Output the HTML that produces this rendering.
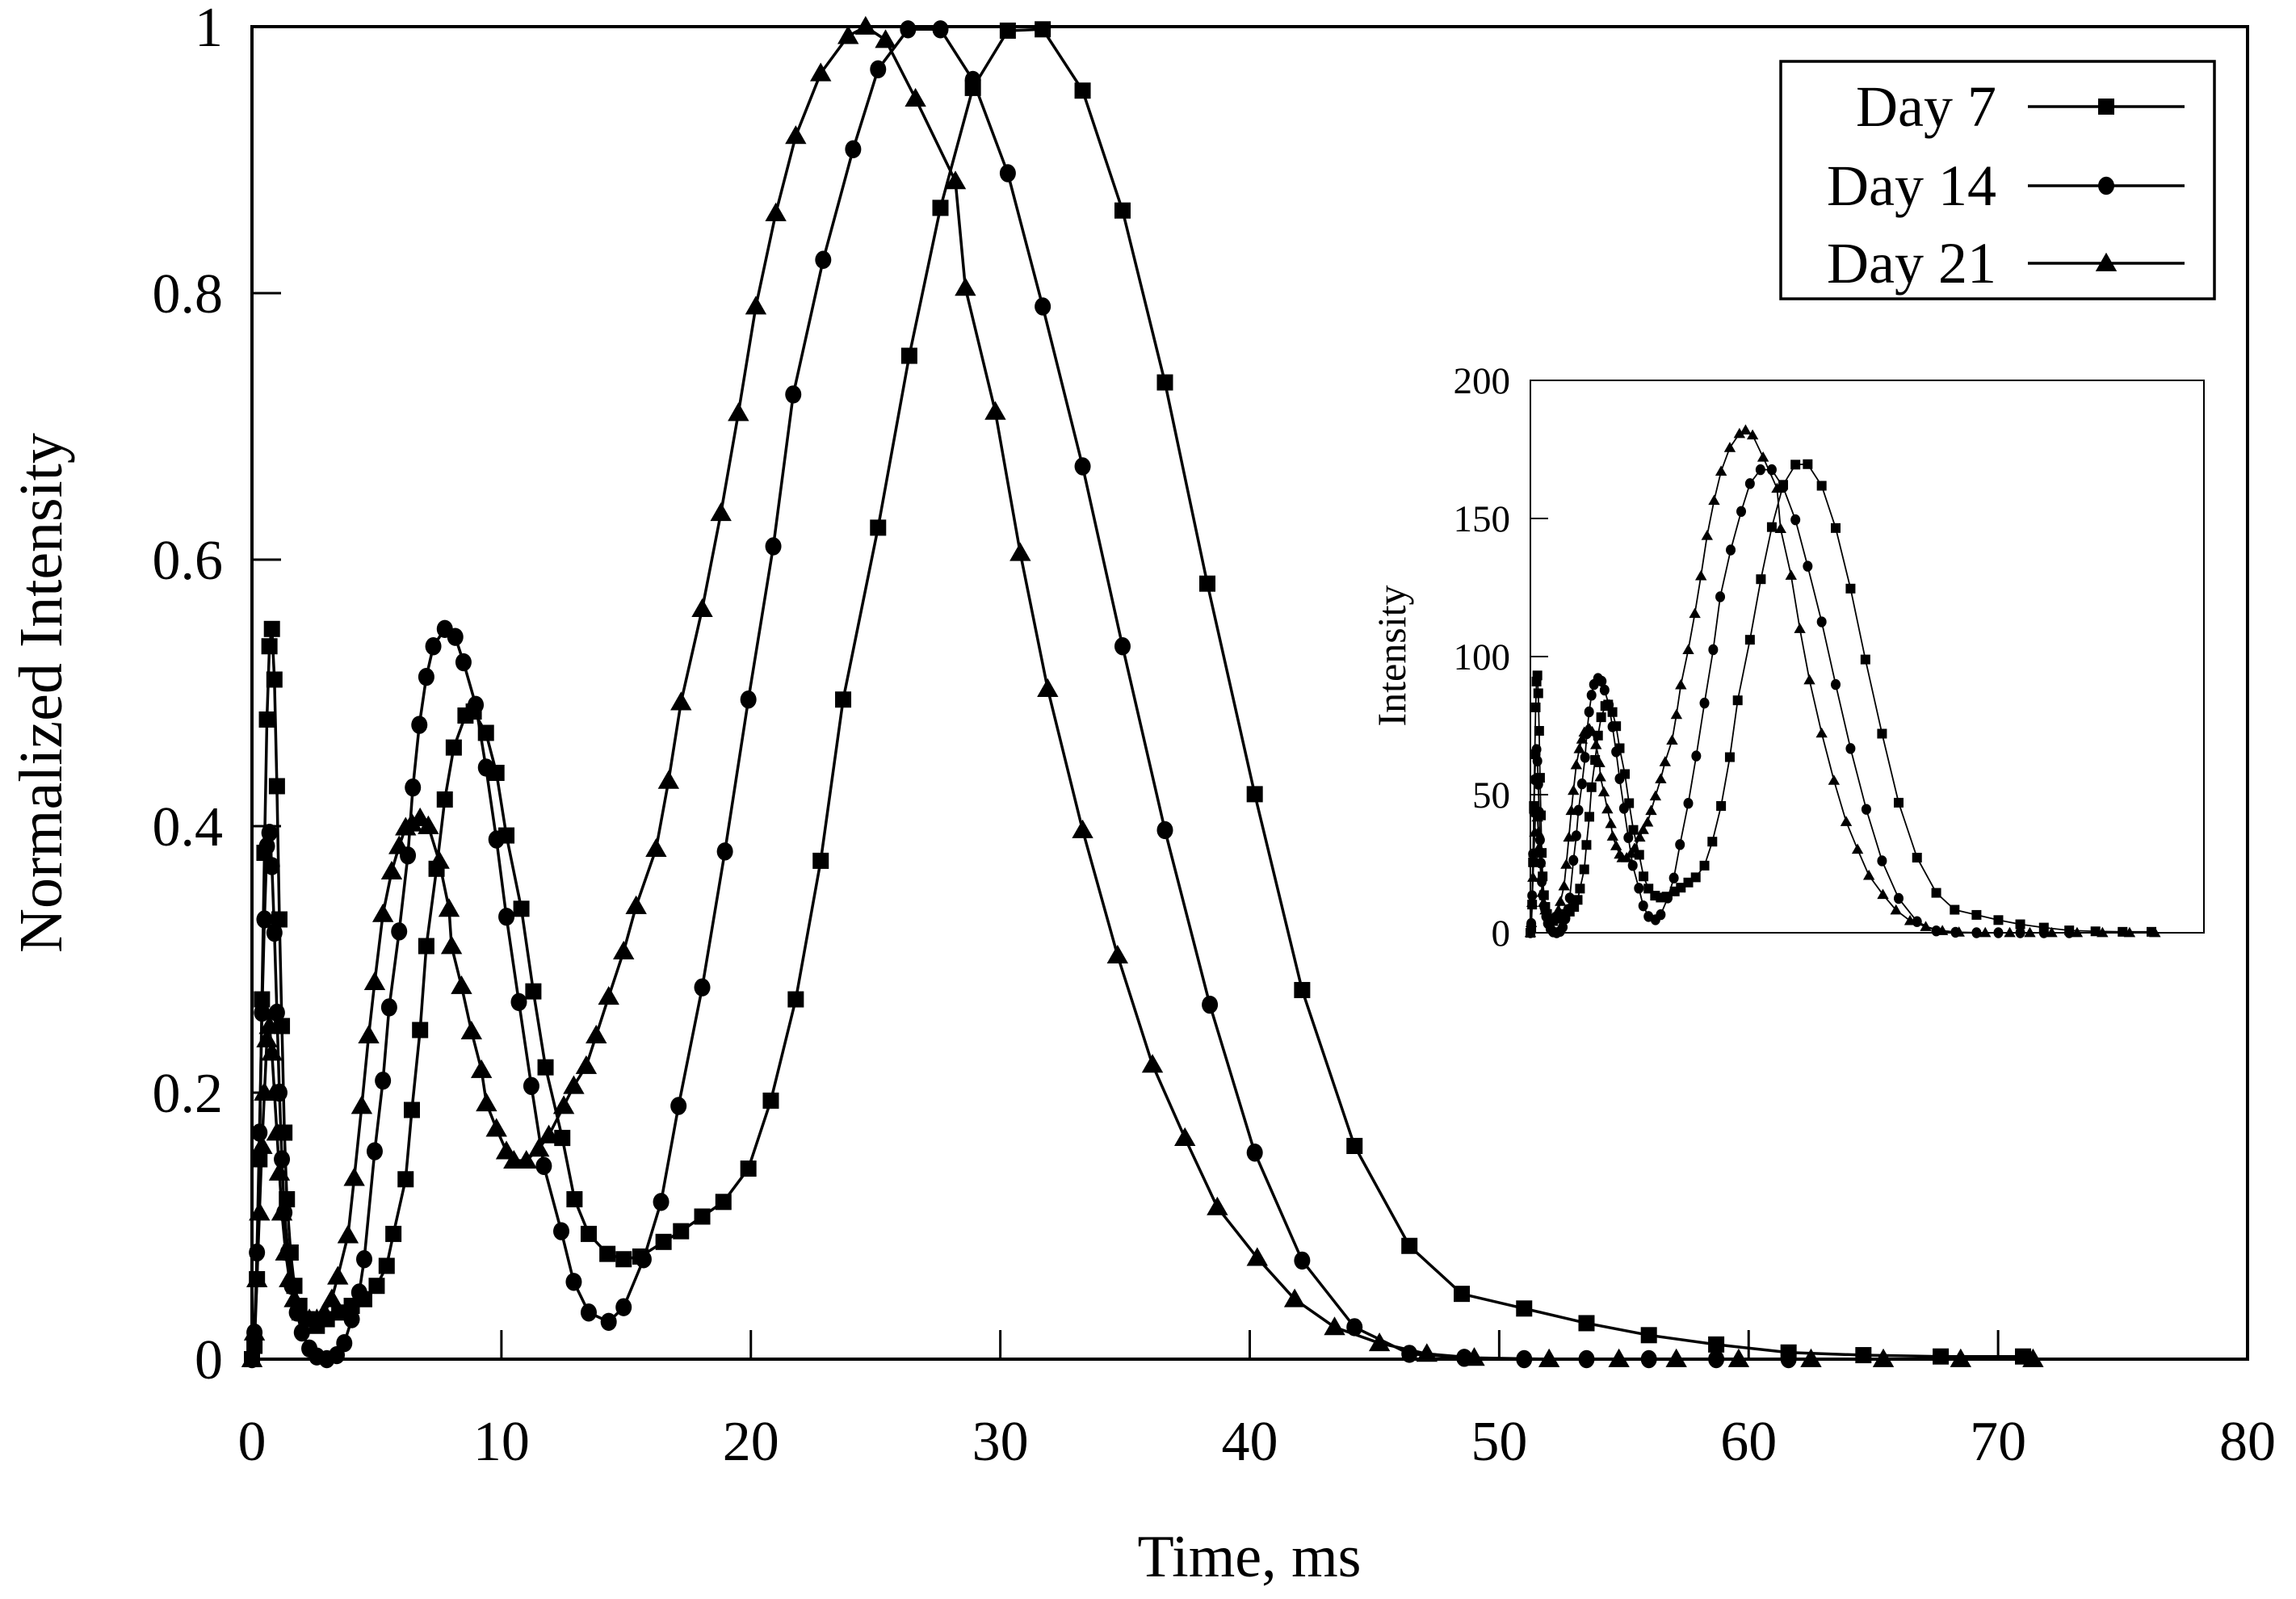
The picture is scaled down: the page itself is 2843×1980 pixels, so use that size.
<!DOCTYPE html>
<html><head><meta charset="utf-8"><style>
html,body{margin:0;padding:0;background:#fff;}
svg{display:block;font-family:"Liberation Serif",serif;}
</style></head><body>
<svg id="chart" width="2843" height="1980" viewBox="0 0 2843 1980" xmlns="http://www.w3.org/2000/svg">
<g id="main"></g>
<g id="inset"></g>
<g id="legend"></g>
</svg>
<script>
const xTicks=[0,10,20,30,40,50,60,70,80];
const yTicks=[0,0.2,0.4,0.6,0.8,1];
const yTickLabels=["0","0.2","0.4","0.6","0.8","1"];
const insetYTicks=[0,50,100,150,200];
const seriesNames=["Day 7","Day 14","Day 21"];
const seriesMax=[170,168,182];
const t7=[0,0.1,0.2,0.3,0.4,0.5,0.6,0.7,0.8,0.9,1.0,1.1,1.2,1.3,1.4,1.55,1.7,1.9,2.2,2.6,3.0,3.5,4.0,4.5,5.0,5.4,5.67,6.16,6.41,6.74,6.99,7.4,7.73,8.09,8.56,8.89,9.38,9.8,10.2,10.8,11.28,11.77,12.44,12.93,13.5,14.25,14.9,15.57,16.5,17.2,18.05,18.9,19.9,20.8,21.8,22.8,23.7,25.1,26.35,27.6,28.9,30.3,31.7,33.3,34.9,36.6,38.3,40.2,42.1,44.2,46.4,48.5,51.0,53.5,56.0,58.7,61.6,64.6,67.7,71.0];
const v7=[0,0.01,0.06,0.15,0.27,0.38,0.48,0.535,0.548,0.51,0.43,0.33,0.25,0.17,0.12,0.08,0.055,0.04,0.03,0.025,0.03,0.035,0.04,0.045,0.055,0.07,0.094,0.135,0.187,0.247,0.31,0.368,0.42,0.459,0.483,0.486,0.47,0.44,0.393,0.338,0.276,0.219,0.166,0.12,0.094,0.079,0.075,0.077,0.088,0.096,0.107,0.118,0.143,0.194,0.27,0.374,0.495,0.624,0.753,0.864,0.954,0.997,0.998,0.952,0.862,0.733,0.582,0.424,0.277,0.16,0.085,0.049,0.038,0.027,0.018,0.011,0.005,0.003,0.002,0.002];
const t14=[0,0.1,0.2,0.3,0.4,0.5,0.6,0.7,0.8,0.9,1.0,1.1,1.2,1.3,1.45,1.6,1.8,2.0,2.3,2.6,3.0,3.4,3.7,4.0,4.3,4.5,4.92,5.25,5.5,5.9,6.25,6.45,6.71,6.99,7.27,7.73,8.15,8.48,8.97,9.38,9.8,10.2,10.7,11.2,11.7,12.4,12.9,13.5,14.3,14.9,15.7,16.4,17.1,18.05,18.96,19.9,20.9,21.7,22.9,24.1,25.1,26.3,27.6,28.9,30.3,31.7,33.3,34.9,36.6,38.4,40.2,42.1,44.2,46.4,48.6,51.0,53.5,56.0,58.7,61.6];
const v14=[0,0.02,0.08,0.17,0.26,0.33,0.385,0.395,0.37,0.32,0.26,0.2,0.15,0.11,0.08,0.055,0.035,0.02,0.008,0.002,0,0.003,0.012,0.03,0.05,0.075,0.156,0.209,0.264,0.321,0.378,0.429,0.476,0.512,0.535,0.548,0.542,0.523,0.491,0.444,0.39,0.332,0.268,0.205,0.145,0.096,0.058,0.035,0.028,0.039,0.075,0.118,0.19,0.279,0.381,0.495,0.61,0.724,0.825,0.908,0.968,0.998,0.998,0.96,0.89,0.79,0.67,0.535,0.397,0.266,0.155,0.074,0.024,0.004,0.001,0,0,0,0,0];
const t21=[0,0.1,0.2,0.3,0.4,0.5,0.6,0.7,0.8,0.9,1.0,1.1,1.2,1.35,1.5,1.7,2.0,2.3,2.6,2.9,3.2,3.44,3.85,4.1,4.4,4.68,4.92,5.25,5.6,5.9,6.16,6.41,6.74,7.07,7.5,7.9,8.0,8.4,8.8,9.2,9.4,9.8,10.2,10.5,11.0,11.5,11.9,12.5,12.9,13.4,13.8,14.3,14.9,15.4,16.2,16.7,17.2,18.05,18.8,19.5,20.2,21.0,21.8,22.8,23.9,24.6,25.4,26.6,28.2,28.6,29.8,30.8,31.9,33.3,34.7,36.1,37.4,38.7,40.3,41.8,43.4,45.2,47.1,49.0,52.0,54.8,57.1,59.6,62.5,65.4,68.5,71.4];
const v21=[0,0.02,0.06,0.11,0.16,0.2,0.24,0.25,0.23,0.2,0.17,0.14,0.11,0.08,0.06,0.045,0.035,0.03,0.03,0.035,0.045,0.062,0.093,0.136,0.19,0.243,0.283,0.334,0.366,0.385,0.399,0.402,0.406,0.4,0.374,0.338,0.31,0.28,0.246,0.217,0.192,0.173,0.156,0.149,0.149,0.158,0.168,0.19,0.205,0.22,0.243,0.272,0.306,0.34,0.383,0.434,0.493,0.563,0.635,0.71,0.79,0.86,0.918,0.965,0.993,1.0,0.99,0.946,0.884,0.804,0.711,0.605,0.503,0.397,0.303,0.221,0.166,0.114,0.076,0.045,0.024,0.012,0.004,0.001,0,0,0,0,0,0,0,0];
const seriesT=[t7,t14,t21];
const seriesV=[v7,v14,v21];
const markers=["square","circle","triangle"];

const NS="http://www.w3.org/2000/svg";
function mk(tag,attrs,parent){const e=document.createElementNS(NS,tag);for(const k in attrs)e.setAttribute(k,attrs[k]);parent.appendChild(e);return e;}
const main=document.getElementById('main');
const inset=document.getElementById('inset');
const legend=document.getElementById('legend');

const L=312,R=2783,T=33,B=1683;
const xs=t=>L+(t-0)/(80-0)*(R-L);
const ys=v=>B-(v-0)/(1-0)*(B-T);
const IL=1895,IR=2729,IT=471,IB=1155;
const ixs=t=>IL+t/77*(IR-IL);
const iys=v=>IB-v/200*(IB-IT);

function marker(type,x,y,s,parent,name){
  let e;
  if(type==="square") e=mk('rect',{x:x-s/2,y:y-s/2,width:s,height:s,fill:'#000'},parent);
  else if(type==="circle") e=mk('ellipse',{cx:x,cy:y,rx:s/2,ry:s*0.56,fill:'#000'},parent);
  else e=mk('polygon',{points:`${x},${y-s*0.6} ${x-s*0.6},${y+s*0.45} ${x+s*0.6},${y+s*0.45}`,fill:'#000'},parent);
  
  
  return e;
}

const fr=mk('rect',{x:L,y:T,width:R-L,height:B-T,fill:'none',stroke:'#000','stroke-width':4},main);


xTicks.forEach((t,i)=>{
  const x=xs(t);
  if(i>0&&i<xTicks.length-1){
    const tk=mk('line',{x1:x,y1:B,x2:x,y2:B-36,stroke:'#000','stroke-width':3},main);
    
    
  }
  const lb=mk('text',{x:x,y:B+125,'text-anchor':'middle','font-size':70},main);
  lb.textContent=String(t);
  
  
});
yTicks.forEach((v,i)=>{
  const y=ys(v);
  if(i>0&&i<yTicks.length-1){
    const tk=mk('line',{x1:L,y1:y,x2:L+36,y2:y,stroke:'#000','stroke-width':3},main);
    
    
  }
  const lb=mk('text',{x:276,y:y+24,'text-anchor':'end','font-size':70},main);
  lb.textContent=yTickLabels[i];
  
  
});
const xt=mk('text',{x:1547,y:1952,'text-anchor':'middle','font-size':74},main);
xt.textContent="Time, ms";


const yt=mk('text',{x:0,y:0,'text-anchor':'middle','font-size':76,transform:'translate(76,858) rotate(-90)'},main);
yt.textContent="Normalized Intensity";



seriesT.forEach((ts,si)=>{
  const vs=seriesV[si];
  const g=mk('g',{},main);
  
  
  const pts=ts.map((t,i)=>xs(t)+','+ys(vs[i])).join(' ');
  const pl=mk('polyline',{points:pts,fill:'none',stroke:'#000','stroke-width':3.5},g);
  
  
  ts.forEach((t,i)=>marker(markers[si],xs(t),ys(vs[i]),markers[si]==="triangle"?22:20,g,'data-point'));
});

const ifr=mk('rect',{x:IL,y:IT,width:IR-IL,height:IB-IT,fill:'#fff',stroke:'#000','stroke-width':2},inset);


insetYTicks.forEach((v,i)=>{
  const y=iys(v);
  if(i>0&&i<insetYTicks.length-1){
    const tk=mk('line',{x1:IL,y1:y,x2:IL+22,y2:y,stroke:'#000','stroke-width':2},inset);
    
    
  }
  const lb=mk('text',{x:1870,y:y+16,'text-anchor':'end','font-size':47},inset);
  lb.textContent=String(v);
  
  
});
const iyt=mk('text',{x:0,y:0,'text-anchor':'middle','font-size':50,transform:'translate(1740,812) rotate(-90)'},inset);
iyt.textContent="Intensity";


seriesT.forEach((ts,si)=>{
  const vs=seriesV[si];
  const g=mk('g',{},inset);
  
  
  const pts=ts.map((t,i)=>ixs(t)+','+iys(vs[i]*seriesMax[si])).join(' ');
  const pl=mk('polyline',{points:pts,fill:'none',stroke:'#000','stroke-width':1.8},g);
  
  
  ts.forEach((t,i)=>marker(markers[si],ixs(t),iys(vs[i]*seriesMax[si]),12,g,'inset-data-point'));
});

const lb=mk('rect',{x:2205,y:76,width:537,height:294,fill:'#fff',stroke:'#000','stroke-width':3.5},legend);


const ly=[132,230,326];
seriesNames.forEach((n,i)=>{
  const g=mk('g',{},legend);
  
  
  const tx=mk('text',{x:2472,y:ly[i]+24,'text-anchor':'end','font-size':72},g);
  tx.textContent=n;
  
  
  const ln=mk('line',{x1:2511,y1:ly[i],x2:2705,y2:ly[i],stroke:'#000','stroke-width':3.5},g);
  
  
  marker(markers[i],2608,ly[i],markers[i]==="triangle"?22:20,g,'legend-marker');
});
</script>
</body></html>
